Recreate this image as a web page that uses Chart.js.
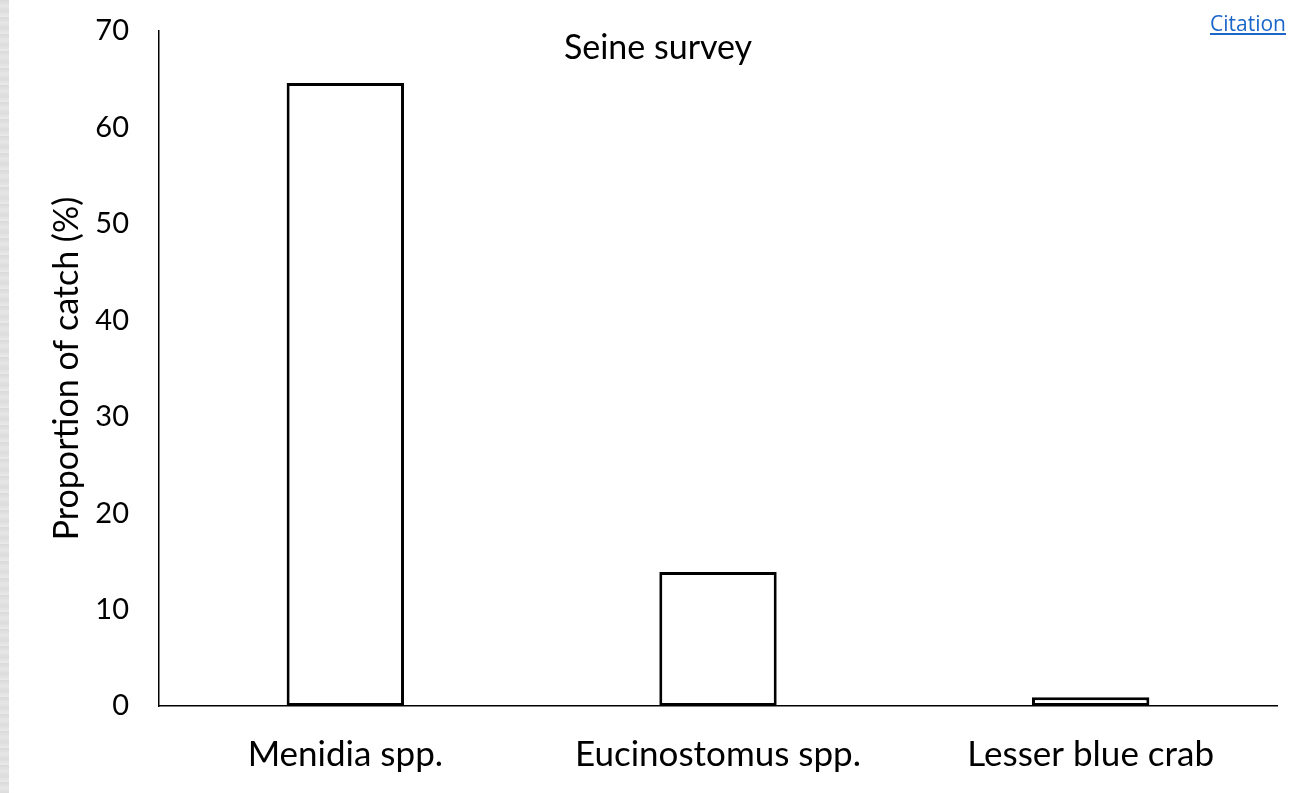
<!DOCTYPE html>
<html>
<head>
<meta charset="utf-8">
<script src="https://cdn.jsdelivr.net/npm/chart.js@4"></script>
<style>
  html, body { margin: 0; padding: 0; background: #fff; }
  body { width: 1307px; height: 793px; position: relative; overflow: hidden; }
  #strip {
    position: absolute; left: 0; top: 0; width: 9px; height: 793px;
    background: repeating-linear-gradient(180deg, #d9d9d9 0px, #e6e6e6 6px, #dcdcdc 11px, #eaeaea 17px);
  }
  #wrap { position: absolute; left: 0; top: 0; width: 1307px; height: 793px; }
  #cite {
    position: absolute; left: 1210px; top: 13px; line-height: 1;
    font-family: "Open Sans", sans-serif; font-size: 21px;
    color: #1a66c9; text-decoration: underline;
  }
</style>
</head>
<body>
<div id="wrap"><canvas id="chart"></canvas></div>
<div id="strip"></div>
<a id="cite" href="#">Citation</a>
<script>
// --- Seine survey catch proportions ---
const species = ["Menidia spp.", "Eucinostomus spp.", "Lesser blue crab"];
const catchPct = [64.6, 13.9, 0.9];
const yTicks = [0, 10, 20, 30, 40, 50, 60, 70];

const FONT = "Lato, 'Open Sans', sans-serif";

// draws the "Seine survey" heading inside the plot
const titlePlugin = {
  id: 'seineTitle',
  afterDraw(chart) {
    const c = chart.ctx;
    c.save();
    c.font = '34px ' + FONT;
    c.fillStyle = '#000';
    c.textAlign = 'center';
    c.textBaseline = 'middle';
    c.fillText('Seine survey', 658, 48);
    c.restore();
  }
};

new Chart(document.getElementById('chart').getContext('2d'), {
  type: 'bar',
  data: {
    labels: species,
    datasets: [{
      data: catchPct,
      backgroundColor: '#ffffff',
      borderColor: '#000000',
      borderWidth: 3,
      borderSkipped: false,
      categoryPercentage: 1,
      barPercentage: 0.315
    }]
  },
  options: {
    responsive: true,
    maintainAspectRatio: false,
    animation: false,
    layout: { padding: { top: 0, right: 30, left: 0, bottom: 0 } },
    plugins: {
      legend: { display: false },
      tooltip: { enabled: false }
    },
    scales: {
      x: {
        grid: { display: false, drawTicks: false },
        border: { display: true, color: '#000', width: 1.5 },
        ticks: { color: '#000', padding: 28, font: { family: FONT, size: 35 } },
        afterFit: s => { s.height = 87; }
      },
      y: {
        min: 0,
        max: 70,
        afterBuildTicks: s => { s.ticks = yTicks.map(v => ({ value: v })); },
        grid: { display: false, drawTicks: false },
        border: { display: true, color: '#000', width: 1.5 },
        ticks: { color: '#000', padding: 30, font: { family: FONT, size: 29 } },
        title: {
          display: true,
          text: 'Proportion of catch (%)',
          color: '#000',
          font: { family: FONT, size: 34 },
          padding: { top: 47, bottom: 0 }
        },
        afterFit: s => {
          s.width = 159;
          s.paddingTop = 31;
          s.paddingBottom = 0;
        }
      }
    }
  },
  plugins: [titlePlugin]
});
</script>
</body>
</html>
